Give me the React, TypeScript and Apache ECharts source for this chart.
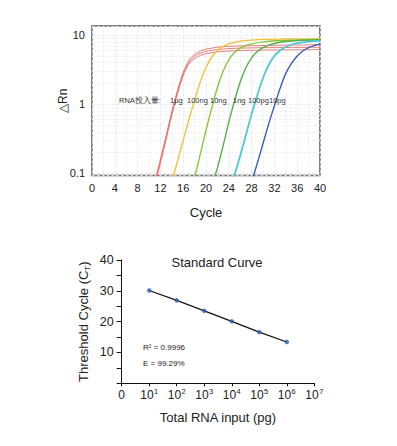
import React, { useEffect, useRef } from "react";
import * as echarts from "echarts";

// ---- Amplification plot data (cycle, ΔRn) ----
const amountLabels = ["1µg", "100ng", "10ng", "1ng", "100pg", "10pg"];

const red1 = [[11,0.075],[12,0.16],[13,0.35],[14,0.78],[15,1.6],[16,2.9],[17,4.3],[18,5.3],[19,5.9],[20,6.3],[21,6.5],[22,6.7],[24,6.9],[26,7.0],[30,7.1],[35,7.2],[40,7.3]];
const red2 = [[11,0.07],[12,0.15],[13,0.33],[14,0.74],[15,1.5],[16,2.75],[17,4.05],[18,4.95],[19,5.5],[20,5.85],[21,6.05],[22,6.2],[24,6.4],[26,6.5],[30,6.6],[35,6.65],[40,6.7]];
const red3 = [[11,0.065],[12,0.14],[13,0.31],[14,0.7],[15,1.42],[16,2.6],[17,3.8],[18,4.6],[19,5.1],[20,5.4],[21,5.6],[22,5.75],[24,5.9],[26,6.0],[30,6.1],[35,6.15],[40,6.2]];
const yellow = [[14,0.075],[15,0.15],[16,0.3],[17,0.6],[18,1.15],[19,2.1],[20,3.4],[21,4.8],[22,6.0],[23,6.9],[24,7.5],[25,7.9],[26,8.2],[28,8.5],[30,8.7],[34,8.8],[40,8.9]];
const lime = [[17,0.055],[18,0.09],[19,0.19],[20,0.42],[21,0.88],[22,1.75],[23,3.0],[24,4.4],[25,5.6],[26,6.5],[27,7.1],[28,7.5],[30,8.0],[32,8.3],[36,8.5],[40,8.6]];
const green = [[21,0.065],[22,0.12],[23,0.25],[24,0.55],[25,1.12],[26,2.1],[27,3.4],[28,4.7],[29,5.8],[30,6.6],[31,7.2],[32,7.6],[34,8.1],[36,8.4],[40,8.6]];
const cyan = [[24,0.055],[25,0.095],[26,0.18],[27,0.36],[28,0.72],[29,1.35],[30,2.4],[31,3.7],[32,5.0],[33,6.0],[34,6.8],[35,7.3],[36,7.7],[38,8.1],[40,8.3]];
const blue = [[28,0.075],[29,0.14],[30,0.27],[31,0.52],[32,0.95],[33,1.7],[34,2.8],[35,3.9],[36,5.0],[37,5.9],[38,6.6],[39,7.1],[40,7.5]];

const minorGridValues = [0.2,0.3,0.4,0.5,0.6,0.7,0.8,0.9,2,3,4,5,6,7,8,9];

// ---- Standard curve data ----
const inputExponents = [1, 2, 3, 4, 5, 6];
const ctValues = [30.1, 26.9, 23.5, 20.1, 16.6, 13.4];

const FONT = "Liberation Sans, Arial, Helvetica, sans-serif";

export default function App() {
  const ref = useRef<HTMLDivElement>(null);
  useEffect(() => {
    if (!ref.current) return;
    const chart = echarts.init(ref.current, null, { renderer: "svg" });
    const curve = (name: string, data: number[][], color: string, width: number, extra: any = {}) => ({
      name,
      type: "line",
      xAxisIndex: 0,
      yAxisIndex: 0,
      data,
      smooth: 0.35,
      showSymbol: false,
      clip: true,
      lineStyle: { color, width },
      itemStyle: { color },
      z: 3,
      ...extra,
    });
    const lbl = (text: string, left: number) => ({
      type: "text", left, top: 96,
      style: { text, fontSize: 7.5, fill: "#333", fontFamily: FONT },
      z: 10,
    });
    const option: any = {
      animation: false,
      backgroundColor: "#ffffff",
      textStyle: { fontFamily: FONT },
      grid: [
        { left: 92, top: 26, width: 228, height: 149.5, show: true, borderColor: "#555", borderWidth: 1.5, backgroundColor: "transparent" },
        { left: 121.7, top: 260, width: 192.6, height: 123.3 },
      ],
      xAxis: [
        {
          gridIndex: 0, type: "value", min: 0, max: 40, interval: 4,
          axisLine: { show: false }, axisTick: { show: false },
          axisLabel: { fontSize: 11, color: "#222", margin: 7, fontFamily: FONT },
          splitLine: { show: true, lineStyle: { color: "#e6e6e6", type: "dashed", width: 0.8 } },
          minorTick: { show: false, splitNumber: 2 },
          minorSplitLine: { show: true, lineStyle: { color: "#eeeeee", type: "dashed", width: 0.8 } },
          name: "Cycle", nameLocation: "middle", nameGap: 30,
          nameTextStyle: { fontSize: 13, color: "#222", fontFamily: FONT },
        },
        {
          gridIndex: 1, type: "value", min: 0, max: 7, interval: 1,
          axisLine: { show: true, lineStyle: { color: "#111", width: 1 } },
          axisTick: { show: true, length: 3, lineStyle: { color: "#111" } },
          splitLine: { show: false },
          axisLabel: {
            margin: 4,
            formatter: (v: number) => (v === 0 ? "{b|0}" : `{b|10}{s|${v}}`),
            rich: {
              b: { fontSize: 12, color: "#222", fontFamily: FONT, lineHeight: 15 },
              s: { fontSize: 7.5, color: "#222", fontFamily: FONT, verticalAlign: "top", lineHeight: 15, padding: [0, 0, 0, 0.5] },
            },
          },
          name: "Total RNA input (pg)", nameLocation: "middle", nameGap: 28,
          nameTextStyle: { fontSize: 13, color: "#222", fontFamily: FONT },
        },
      ],
      yAxis: [
        {
          gridIndex: 0, type: "log", logBase: 10, min: 0.093, max: 13.6,
          axisLine: { show: false }, axisTick: { show: false },
          axisLabel: { fontSize: 11, color: "#222", margin: 7, showMinLabel: false, showMaxLabel: false, fontFamily: FONT,
            formatter: (v: number) => (Math.abs(v - 0.1) < 1e-6 ? "0.1" : Math.abs(v - 1) < 1e-6 ? "1" : Math.abs(v - 10) < 1e-6 ? "10" : "") },
          splitLine: { show: true, lineStyle: { color: "#e6e6e6", type: "dashed", width: 0.8 } },
          name: "△Rn", nameLocation: "middle", nameGap: 23, nameRotate: 90, nameMoveOverlap: false,
          nameTextStyle: { fontSize: 12, color: "#222", fontFamily: FONT },
        },
        {
          gridIndex: 1, type: "value", min: 0, max: 40, interval: 10,
          axisLine: { show: true, lineStyle: { color: "#111", width: 1 } },
          axisTick: { show: true, length: 5, lineStyle: { color: "#111" } },
          minorTick: { show: true, splitNumber: 2, length: 5, lineStyle: { color: "#111" } },
          splitLine: { show: false },
          axisLabel: { fontSize: 12.5, color: "#222", margin: 8, showMinLabel: false, fontFamily: FONT },
          name: "{a|Threshold Cycle (C}{t|T}{a|)}", nameLocation: "middle", nameGap: 30, nameRotate: 90, nameMoveOverlap: false,
          nameTextStyle: {
            color: "#222",
            rich: {
              a: { fontSize: 13, color: "#222", fontFamily: FONT, lineHeight: 16 },
              t: { fontSize: 8, color: "#222", fontFamily: FONT, verticalAlign: "bottom", lineHeight: 16 },
            },
          },
        },
      ],
      series: [
        curve(amountLabels[0] + " a", red1, "#e3726c", 0.9, {
          markLine: {
            silent: true, symbol: "none", label: { show: false },
            lineStyle: { color: "#eeeeee", type: "dashed", width: 0.8 },
            data: minorGridValues.map((v) => ({ yAxis: v })),
            z: 1,
          },
        }),
        curve(amountLabels[0] + " b", red2, "#e3726c", 0.9),
        curve(amountLabels[0] + " c", red3, "#e3726c", 0.9),
        curve(amountLabels[1], yellow, "#f0c23c", 1.4),
        curve(amountLabels[2], lime, "#8cc43c", 1.4),
        curve(amountLabels[3], green, "#55b04a", 1.4),
        curve(amountLabels[4], cyan, "#4ec8d8", 1.8),
        curve(amountLabels[5], blue, "#3b5cbf", 1.4),
        {
          name: "fit", type: "line", xAxisIndex: 1, yAxisIndex: 1,
          data: inputExponents.map((e, i) => [e, ctValues[i]]),
          showSymbol: false, lineStyle: { color: "#111", width: 1.2 }, z: 2,
        },
        {
          name: "CT", type: "scatter", xAxisIndex: 1, yAxisIndex: 1,
          data: inputExponents.map((e, i) => [e, ctValues[i]]),
          symbol: "circle", symbolSize: 4.5, itemStyle: { color: "#2a5db0" }, z: 3,
        },
      ],
      graphic: [
        lbl("RNA投入量:", 119),
        lbl(amountLabels[0], 170),
        lbl(amountLabels[1], 187),
        lbl(amountLabels[2], 210),
        lbl(amountLabels[3], 233),
        lbl(amountLabels[4], 248),
        lbl(amountLabels[5], 269),
        { type: "text", x: 217, y: 262, style: { text: "Standard Curve", fontSize: 13, fill: "#222", fontFamily: FONT, textAlign: "center", textVerticalAlign: "middle" } },
        { type: "text", left: 143, top: 343, style: { text: "R² = 0.9996", fontSize: 8, fill: "#222", fontFamily: FONT } },
        { type: "text", left: 143, top: 359, style: { text: "E = 99.29%", fontSize: 8, fill: "#222", fontFamily: FONT } },
      ],
    };
    chart.setOption(option);
    return () => chart.dispose();
  }, []);
  return (
    <div
      ref={ref}
      style={{ position: "absolute", left: 0, top: 0, width: 397, height: 446, background: "#fff" }}
    />
  );
}
